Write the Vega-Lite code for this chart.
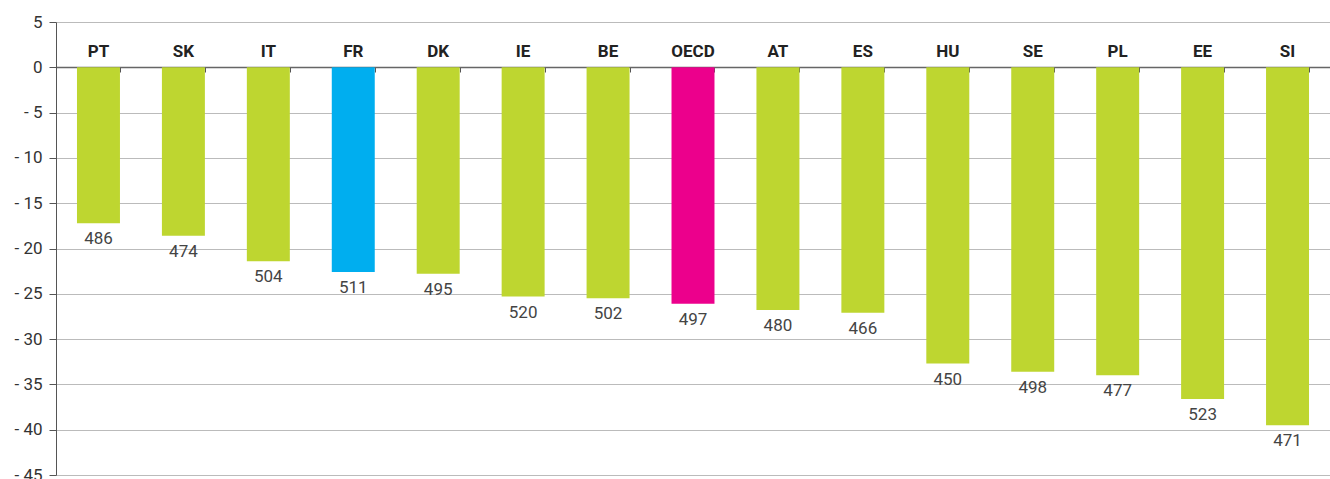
{
  "$schema": "https://vega.github.io/schema/vega-lite/v6.json",
  "autosize": {"type": "none"},
  "padding": {"left": 56, "top": 22, "right": 0, "bottom": 4},
  "width": 1274,
  "height": 453,
  "config": {
    "view": {"stroke": null},
    "font": "Roboto"
  },
  "data": {
    "values": [
      {"country": "PT", "change": -17.2, "score": 486, "group": "country"},
      {"country": "SK", "change": -18.6, "score": 474, "group": "country"},
      {"country": "IT", "change": -21.4, "score": 504, "group": "country"},
      {"country": "FR", "change": -22.6, "score": 511, "group": "France"},
      {"country": "DK", "change": -22.8, "score": 495, "group": "country"},
      {"country": "IE", "change": -25.3, "score": 520, "group": "country"},
      {"country": "BE", "change": -25.5, "score": 502, "group": "country"},
      {"country": "OECD", "change": -26.1, "score": 497, "group": "OECD"},
      {"country": "AT", "change": -26.8, "score": 480, "group": "country"},
      {"country": "ES", "change": -27.1, "score": 466, "group": "country"},
      {"country": "HU", "change": -32.7, "score": 450, "group": "country"},
      {"country": "SE", "change": -33.6, "score": 498, "group": "country"},
      {"country": "PL", "change": -34.0, "score": 477, "group": "country"},
      {"country": "EE", "change": -36.6, "score": 523, "group": "country"},
      {"country": "SI", "change": -39.5, "score": 471, "group": "country"}
    ]
  },
  "encoding": {
    "x": {
      "field": "country",
      "type": "nominal",
      "sort": null,
      "scale": {"paddingInner": 0.494, "paddingOuter": 0.247},
      "title": null
    },
    "y": {
      "field": "change",
      "type": "quantitative",
      "scale": {"domain": [-45, 5], "nice": false, "zero": false},
      "title": null
    }
  },
  "layer": [
    {
      "mark": {"type": "bar"},
      "encoding": {
        "x": {
          "field": "country",
          "type": "nominal",
          "sort": null,
          "title": null,
          "axis": {
            "orient": "bottom",
            "offset": -408,
            "labels": false,
            "tickBand": "extent",
            "ticks": true,
            "tickSize": 5,
            "tickColor": "#555",
            "domainColor": "#666",
            "domainWidth": 1.3
          }
        },
        "y": {
          "field": "change",
          "type": "quantitative",
          "title": null,
          "axis": {
            "values": [5, 0, -5, -10, -15, -20, -25, -30, -35, -40, -45],
            "labelExpr": "datum.value < 0 ? '- ' + abs(datum.value) : datum.label",
            "labelFont": "Roboto",
            "labelFontSize": 17,
            "labelColor": "#333",
            "labelPadding": 7,
            "tickSize": 7,
            "tickColor": "#555",
            "domainColor": "#555",
            "gridColor": "#bbbbbb",
            "gridWidth": 1.2
          }
        },
        "y2": {"datum": 0},
        "color": {
          "field": "group",
          "type": "nominal",
          "scale": {
            "domain": ["country", "France", "OECD"],
            "range": ["#bed630", "#00aeef", "#ec008c"]
          },
          "legend": null
        }
      }
    },
    {
      "mark": {
        "type": "text",
        "baseline": "top",
        "dy": 8,
        "fontSize": 17,
        "color": "#444",
        "font": "Roboto"
      },
      "encoding": {
        "text": {"field": "score", "type": "quantitative"}
      }
    },
    {
      "mark": {
        "type": "text",
        "baseline": "bottom",
        "dy": -6,
        "fontSize": 17,
        "fontWeight": "bold",
        "color": "#222",
        "font": "Roboto"
      },
      "encoding": {
        "y": {"datum": 0},
        "text": {"field": "country", "type": "nominal"}
      }
    }
  ]
}
